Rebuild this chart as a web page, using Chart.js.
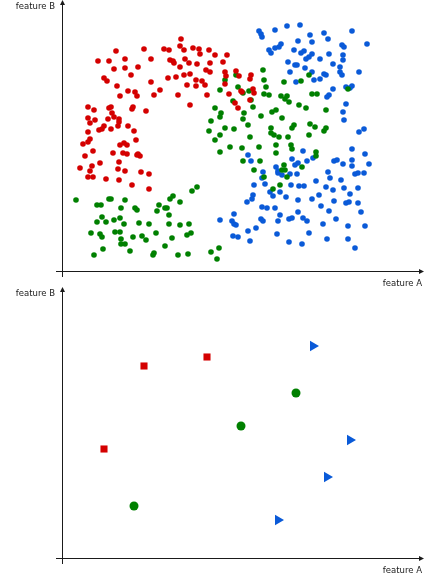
<!DOCTYPE html>
<html>
<head>
<meta charset="utf-8">
<script src="https://cdn.jsdelivr.net/npm/chart.js@4.4.0/dist/chart.umd.min.js"></script>
<style>
  body { margin: 0; background: #fff; }
  .panel { position: absolute; left: 0; width: 424px; height: 290px; }
</style>
</head>
<body>
<div class="panel" style="top:0"><canvas id="top" width="424" height="290"></canvas></div>
<div class="panel" style="top:287px"><canvas id="bottom" width="424" height="290"></canvas></div>
<script>
// [feature A, feature B]
const redPoints = [
  [118,232],[117,225],[101,222],[106,221],[121,221],[130,223],[136,222],[137,217],[146,221],[53,220],
  [81,222],[35,210],[46,210],[62,212],[88,212],[107,211],[110,210],[111,208],[122,212],[126,208],
  [134,207],[147,208],[51,202],[62,203],[75,204],[117,204],[143,201],[147,199],[68,196],[41,193],
  [44,190],[105,193],[113,194],[121,196],[127,197],[133,191],[139,190],[142,186],[88,189],[54,185],
  [124,186],[133,185],[65,180],[72,179],[74,175],[57,175],[97,181],[91,176],[115,176],[144,176],
  [127,166],[25,164],[31,161],[46,163],[48,164],[49,158],[70,164],[69,162],[83,160],[25,153],
  [32,151],[45,152],[51,154],[56,152],[27,148],[56,149],[41,145],[39,142],[36,141],[48,142],
  [55,145],[65,145],[71,140],[25,139],[27,132],[73,131],[20,127],[25,129],[57,126],[61,128],
  [64,126],[22,115],[30,120],[50,118],[60,118],[64,117],[74,116],[75,117],[77,115],[56,109],
  [37,108],[29,105],[17,103],[27,100],[55,102],[62,100],[78,99],[86,97],[25,94],[30,94],
  [43,92],[56,91],[69,86],[86,82],[152,216],[164,216],[160,209],[162,199],[163,195],[173,200],
  [176,195],[188,196],[187,192],[162,187],[178,180],[179,179],[190,182],[191,178],[166,177],[187,171],
  [172,168],[175,163]
];
const greenPoints = [
  [13,71],[34,66],[38,66],[46,72],[48,72],[62,71],[58,63],[72,63],[74,61],[96,66],
  [94,60],[102,63],[104,63],[107,72],[110,75],[117,69],[129,80],[134,84],[39,54],[34,49],
  [43,49],[51,51],[57,53],[61,47],[76,48],[86,47],[106,56],[106,47],[117,46],[126,47],
  [28,38],[37,37],[39,34],[52,39],[57,39],[93,38],[79,35],[70,34],[58,32],[83,31],
  [109,33],[124,36],[128,38],[58,27],[62,27],[40,22],[102,25],[67,20],[31,16],[90,16],
  [91,18],[115,16],[125,17],[148,19],[156,23],[154,12],[148,150],[146,140],[200,201],[201,191],
  [221,189],[238,190],[246,196],[162,191],[157,181],[175,184],[180,178],[186,180],[203,184],[201,177],
  [206,176],[218,175],[224,175],[222,172],[226,169],[249,177],[254,177],[170,170],[188,171],[152,163],
  [190,164],[236,166],[243,163],[263,161],[158,158],[157,154],[181,158],[198,155],[209,159],[213,161],
  [219,153],[180,152],[185,146],[247,147],[252,144],[162,143],[171,142],[208,143],[229,143],[231,146],
  [261,140],[263,143],[157,136],[187,134],[208,138],[211,136],[216,134],[225,134],[246,136],[285,182],
  [173,196],[152,131],[157,119],[167,124],[179,123],[196,124],[213,126],[213,118],[228,126],[229,122],
  [253,119],[253,115],[180,110],[197,110],[221,106],[219,101],[222,101],[239,104],[191,101],[201,94],
  [224,94],[217,86],[210,82]
];
const bluePoints = [
  [196,240],[198,237],[199,234],[212,241],[224,245],[237,246],[247,236],[249,229],[261,238],[265,232],
  [289,240],[304,227],[235,230],[206,221],[208,218],[212,223],[216,224],[218,227],[231,221],[238,218],
  [241,220],[249,217],[246,214],[243,212],[266,217],[279,226],[281,224],[280,216],[280,211],[257,212],
  [225,209],[232,206],[234,206],[270,207],[277,204],[242,203],[227,199],[249,199],[277,199],[279,196],
  [296,199],[261,197],[263,196],[251,191],[257,192],[233,189],[270,182],[283,184],[287,183],[289,185],
  [266,176],[264,174],[283,167],[280,159],[281,151],[296,139],[301,142],[289,122],[240,120],[302,117],
  [185,116],[188,110],[229,112],[235,108],[232,106],[244,110],[250,113],[271,110],[274,111],[280,107],
  [289,111],[289,105],[306,107],[213,104],[215,100],[215,98],[219,96],[227,97],[234,97],[200,99],
  [199,93],[202,87],[191,86],[228,86],[236,85],[241,85],[253,90],[265,99],[267,93],[278,91],
  [292,97],[295,98],[301,98],[263,84],[270,81],[281,83],[295,83],[287,77],[207,79],[210,75],
  [217,79],[190,76],[189,72],[184,69],[223,74],[235,71],[249,72],[256,76],[271,70],[283,68],
  [286,69],[295,68],[258,65],[199,64],[204,63],[212,63],[266,60],[298,59],[235,59],[217,56],
  [171,57],[198,52],[200,50],[215,50],[226,52],[229,53],[240,53],[244,50],[273,52],[169,50],
  [171,47],[173,46],[157,51],[193,43],[185,40],[260,47],[285,45],[302,45],[246,38],[214,37],
  [170,35],[175,34],[187,30],[226,29],[239,27],[264,32],[285,32],[292,23]
];

// panel inferior: pocos ejemplos
const squarePoints = [[81,192],[144,201],[41,109]];
const circlePoints = [[233,165],[178,132],[71,52]];
const trianglePoints = [[250,212],[287,118],[264,81],[215,38]];

const rangeA = [0, 361];
const rangeB = [0, 271];
const axisLabels = ["feature A", "feature B"];

const RED = "#d40000";
const GREEN = "#008000";
const BLUE = "#0a5ad8";
const INK = "#1a1a1a";

// ejes con flecha y etiquetas
const axesArrows = {
  id: "axesArrows",
  beforeDatasetsDraw(chart) {
    const { ctx, chartArea: a } = chart;
    const ax = a.left - 0.5;
    const ay = a.bottom + 0.5;
    ctx.save();
    ctx.strokeStyle = INK;
    ctx.fillStyle = INK;
    ctx.lineWidth = 1;

    ctx.beginPath();
    ctx.moveTo(ax, a.top + 3);
    ctx.lineTo(ax, a.bottom + 6);
    ctx.moveTo(a.left - 7, ay);
    ctx.lineTo(a.right - 3, ay);
    ctx.stroke();

    ctx.beginPath();
    ctx.moveTo(ax, a.top);
    ctx.lineTo(ax - 2.5, a.top + 5);
    ctx.lineTo(ax + 2.5, a.top + 5);
    ctx.closePath();
    ctx.fill();

    ctx.beginPath();
    ctx.moveTo(a.right, ay);
    ctx.lineTo(a.right - 5, ay - 2.5);
    ctx.lineTo(a.right - 5, ay + 2.5);
    ctx.closePath();
    ctx.fill();

    ctx.font = '8.5px "DejaVu Sans"';
    ctx.textAlign = "right";
    ctx.textBaseline = "alphabetic";
    ctx.fillText(axisLabels[1], a.left - 8, a.top + 9);
    ctx.fillText(axisLabels[0], a.right - 2, a.bottom + 14.5);
    ctx.restore();
  }
};

function toXY(list) {
  return list.map(p => ({ x: p[0], y: p[1] }));
}

function makeChart(id, datasets) {
  return new Chart(document.getElementById(id), {
    type: "scatter",
    data: { datasets: datasets },
    options: {
      responsive: false,
      animation: false,
      events: [],
      layout: { autoPadding: false, padding: { left: 63, right: 0, top: 0, bottom: 19 } },
      plugins: { legend: { display: false }, tooltip: { enabled: false } },
      scales: {
        x: { display: false, min: rangeA[0], max: rangeA[1] },
        y: { display: false, min: rangeB[0], max: rangeB[1] }
      }
    },
    plugins: [axesArrows]
  });
}

function dots(list, color) {
  return {
    data: toXY(list),
    pointRadius: 2.8,
    pointBorderWidth: 0,
    pointBackgroundColor: color,
    clip: false
  };
}

makeChart("top", [
  dots(redPoints, RED),
  dots(greenPoints, GREEN),
  dots(bluePoints, BLUE)
]);

makeChart("bottom", [
  { data: toXY(squarePoints), pointStyle: "rect", pointRadius: 5, pointBorderWidth: 0, pointBackgroundColor: RED, clip: false },
  { data: toXY(circlePoints), pointStyle: "circle", pointRadius: 4.5, pointBorderWidth: 0, pointBackgroundColor: GREEN, clip: false },
  { data: toXY(trianglePoints), pointStyle: "triangle", rotation: 90, pointRadius: 6, pointBorderWidth: 0, pointBackgroundColor: BLUE, clip: false }
]);
</script>
</body>
</html>
